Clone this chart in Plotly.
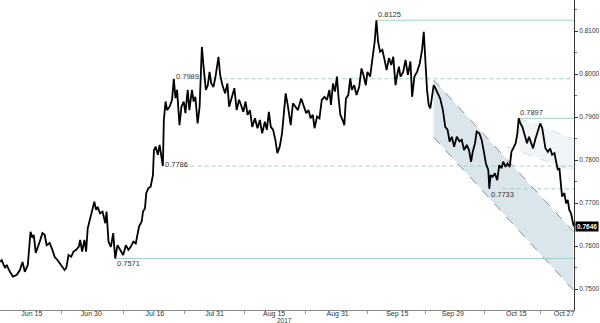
import pandas as pd
import plotly.graph_objects as go

BASE = pd.Timestamp("2017-06-07")

# day offsets from BASE and AUD/USD values
days = [0, 0.42, 1.25, 1.68, 2.5, 3.25, 4.25, 5, 5.68, 6.25, 7, 7.68, 8.18, 8.5, 9, 9.5, 10, 10.68, 11.25, 11.75,
        12.5, 13.18, 13.75, 14.5, 15.42, 16.25, 16.68, 17.25, 17.92, 18.5, 19.18, 19.82, 20.18, 20.68, 21.25, 21.68,
        22.08, 22.68, 23.18, 23.75, 24.18, 24.58, 25.18, 25.82, 26.5, 26.82, 27.32, 27.92, 28.5, 29, 29.58, 30.42,
        31, 31.68, 32.32, 32.92, 33.58, 34.18, 34.58, 35, 35.68, 36, 36.5, 36.82, 37.32, 37.92,
        38.5, 38.75, 39.18, 39.75, 40.18, 40.68, 41, 41.25, 41.68, 42.08, 42.68, 43.32, 43.75, 44.18, 44.58, 45.18,
        45.68, 46.25, 46.68, 47.25, 47.68, 48.32, 48.75, 49.18, 49.75, 50.25, 50.58, 50.82, 51.25, 51.82, 52.32,
        52.75, 53.18, 53.75, 54.32, 55, 55.42, 56, 56.68, 57.25, 57.68, 58.32, 59, 59.58, 60.18, 60.68, 61.25,
        61.82, 62.32, 62.92, 63.5, 64.18, 64.82, 65.42, 66, 66.68, 67.18, 67.68, 68.18, 68.75, 69.32, 69.82, 70.42,
        71, 71.5, 71.92, 72.5, 73.18, 73.75, 74.32, 75,
        75.82, 76.5, 77.08, 77.68, 78.18, 78.75, 79.18, 79.82, 80.42, 81, 81.68, 82.32, 82.92, 83.32, 83.82, 84.32,
        84.82, 85.25, 85.68, 86.25, 86.68, 87.08, 87.68, 88.18, 88.58, 89.18, 89.75, 90.42, 91, 91.5, 92.08, 92.5,
        93.18, 93.5, 94, 94.32, 94.75, 95.18, 95.68, 96.25, 96.82, 97.32, 97.92, 98.5, 99, 99.58, 100, 100.42,
        100.82, 101.5, 102.08, 102.68, 103.32, 103.75, 104.32, 105, 105.68, 106.25, 106.68, 107, 107.5, 107.92,
        108.32, 108.75, 109.18, 109.58, 110,
        110.82, 111.5, 112.08, 112.68, 113.18, 113.75, 114.32, 115, 115.68, 116.25, 116.82, 117.5, 118.08, 118.58,
        119, 119.58, 120, 120.68, 121.25, 121.82, 122.32, 122.92, 123.18, 123.5, 124, 124.58, 125.18, 125.68,
        126.25, 126.68, 127.25, 127.75, 128.32, 128.75, 129.32, 129.82, 130.25, 130.58, 131, 131.5, 132.08,
        132.68, 133.18, 133.75, 134.18, 134.82, 135.42, 136, 136.5, 136.82, 137.32, 137.92, 138.5, 139, 139.58,
        140, 140.42, 140.82, 141.25, 141.5, 142.08, 142.5, 142.92, 143.32, 143.75, 144.18, 144.42]

price = [0.7563, 0.7567, 0.7549, 0.7556, 0.7540, 0.7529, 0.7533, 0.7544, 0.7563, 0.7540, 0.7556, 0.7633, 0.7619,
         0.7626, 0.7584, 0.7595, 0.7610, 0.7630, 0.7626, 0.7602, 0.7607, 0.7591, 0.7575, 0.7567, 0.7556, 0.7544,
         0.7549, 0.7579, 0.7575, 0.7587, 0.7591, 0.7598, 0.7614, 0.7587, 0.7614, 0.7587, 0.7641, 0.7664, 0.7680,
         0.7703, 0.7684, 0.7691, 0.7676, 0.7680, 0.7653, 0.7680, 0.7610, 0.7598, 0.7630, 0.7571, 0.7602, 0.7587,
         0.7579, 0.7602, 0.7591, 0.7598, 0.7610, 0.7606, 0.7626, 0.7645, 0.7657, 0.7680, 0.7688, 0.7723, 0.7734,
         0.7738,
         0.7765, 0.7823, 0.7831, 0.7812, 0.7835, 0.7808, 0.7786, 0.7893, 0.7936, 0.7916, 0.7924, 0.7940, 0.7989,
         0.7944, 0.7963, 0.7881, 0.7924, 0.7936, 0.7909, 0.7963, 0.7916, 0.7963, 0.7936, 0.7947, 0.7885, 0.7924,
         0.8033, 0.8063, 0.8017, 0.7963, 0.7974, 0.8005, 0.7978, 0.7970, 0.7998, 0.8040, 0.7998, 0.7974, 0.7955,
         0.7978, 0.7924, 0.7943, 0.7967, 0.7916, 0.7940, 0.7928, 0.7912, 0.7936, 0.7905, 0.7916, 0.7877, 0.7897,
         0.7874, 0.7893, 0.7862, 0.7889, 0.7870, 0.7912, 0.7877, 0.7870, 0.7847, 0.7816, 0.7831, 0.7862, 0.7912,
         0.7955, 0.7924, 0.7881, 0.7932, 0.7924, 0.7916,
         0.7943, 0.7924, 0.7909, 0.7916, 0.7897, 0.7905, 0.7874, 0.7901, 0.7897, 0.7940, 0.7947, 0.7940, 0.7963,
         0.7928, 0.7978, 0.7959, 0.7994, 0.7943, 0.7905, 0.7893, 0.7881, 0.7943, 0.7951, 0.7990, 0.7963, 0.7974,
         0.7951, 0.7970, 0.8013, 0.7998, 0.7974, 0.8005, 0.7994, 0.8017, 0.8048, 0.8075, 0.8125, 0.8075, 0.8052,
         0.8056, 0.8033, 0.8009, 0.8037, 0.8021, 0.8040, 0.7974, 0.7998, 0.8017, 0.7994, 0.8005, 0.8033, 0.7998,
         0.8029, 0.7947, 0.7994, 0.8005, 0.8025, 0.8056, 0.8098, 0.8033, 0.7963, 0.7928, 0.7920, 0.7947, 0.7974,
         0.7967, 0.7959,
         0.7943, 0.7916, 0.7877, 0.7870, 0.7843, 0.7854, 0.7831, 0.7854, 0.7843, 0.7847, 0.7823, 0.7835, 0.7823,
         0.7796, 0.7819, 0.7839, 0.7866, 0.7862, 0.7847, 0.7819, 0.7792, 0.7777, 0.7733, 0.7765, 0.7761, 0.7769,
         0.7753, 0.7788, 0.7781, 0.7796, 0.7784, 0.7792, 0.7784, 0.7819, 0.7831, 0.7839, 0.7862, 0.7897, 0.7885,
         0.7877, 0.7858, 0.7839, 0.7854, 0.7835, 0.7827, 0.7850, 0.7870, 0.7885, 0.7874, 0.7854, 0.7827, 0.7819,
         0.7827, 0.7812, 0.7816, 0.7796, 0.7777, 0.7781, 0.7738, 0.7715, 0.7723, 0.7699, 0.7707, 0.7684, 0.7676,
         0.7660, 0.7646]

# horizontal levels: value, start day, solid/dashed, label side
levels = [0.8125, 0.7989, 0.7897, 0.7786, 0.7733, 0.7571]
level_start = [94.75, 49.2, 130.5, 46.2, 126.5, 29.0]
level_label_day = [94.75, 43.75, 130.5, 41.0, 123.2, 29.0]
level_dash = ["solid", "dash", "solid", "dash", "dash", "solid"]
level_label_pos = ["above", "inline", "above", "inline", "below", "below"]

# descending channel (start day, end day, upper values, lower values)
chan_days = [109.18, 144.3]
chan_upper = [0.7986, 0.7634]
chan_lower = [0.7853, 0.7498]
# lighter October channel
oct_days = [130.5, 144.5]
oct_upper = [0.7897, 0.7849]
oct_lower = [0.7821, 0.7774]
oct_lower_ext_days = [127.5, 144.5]
oct_lower_ext = [0.7831, 0.7774]

tick_dates = ["2017-06-15", "2017-06-30", "2017-07-16", "2017-07-31", "2017-08-15",
              "2017-08-31", "2017-09-15", "2017-09-29", "2017-10-15", "2017-10-27"]
tick_text = ["Jun 15", "Jun 30", "Jul 16", "Jul 31", "Aug 15", "Aug 31", "Sep 15", "Sep 29", "Oct 15", "Oct 27"]
y_ticks = [0.75, 0.76, 0.77, 0.78, 0.79, 0.80, 0.81]
last_price = 0.7646


def d(x):
    return BASE + pd.to_timedelta(x, unit="D")


x_end = d(144.5)
fig = go.Figure()

# light October channel
fig.add_trace(go.Scatter(x=[d(v) for v in oct_days], y=oct_lower, mode="lines",
                         line=dict(color="rgba(0,0,0,0)"), showlegend=False, hoverinfo="skip"))
fig.add_trace(go.Scatter(x=[d(v) for v in oct_days], y=oct_upper, mode="lines", fill="tonexty",
                         fillcolor="rgba(225,232,238,0.45)", line=dict(color="rgba(0,0,0,0)"),
                         showlegend=False, hoverinfo="skip"))
fig.add_trace(go.Scatter(x=[d(v) for v in oct_days], y=oct_upper, mode="lines",
                         line=dict(color="#d4d8dc", width=1, dash="dash"), showlegend=False))
fig.add_trace(go.Scatter(x=[d(v) for v in oct_lower_ext_days], y=oct_lower_ext, mode="lines",
                         line=dict(color="#d4d8dc", width=1, dash="dash"), showlegend=False))

# main channel
fig.add_trace(go.Scatter(x=[d(v) for v in chan_days], y=chan_lower, mode="lines",
                         line=dict(color="#8a8f94", width=1, dash="dash"), showlegend=False))
fig.add_trace(go.Scatter(x=[d(v) for v in chan_days], y=chan_upper, mode="lines", fill="tonexty",
                         fillcolor="rgba(210,222,231,0.8)",
                         line=dict(color="#8a8f94", width=1, dash="dash"), showlegend=False))

# levels
for v, s, ld, ds, pos in zip(levels, level_start, level_label_day, level_dash, level_label_pos):
    fig.add_trace(go.Scatter(x=[d(s), x_end], y=[v, v], mode="lines",
                             line=dict(color="#9ed3c3", width=1, dash=ds if ds == "solid" else "4px,3px"),
                             showlegend=False))
    if pos == "above":
        fig.add_annotation(x=d(ld), y=v, text=f"{v:.4f}", showarrow=False, xanchor="left", yanchor="bottom",
                           yshift=-1, font=dict(size=7.5, color="#333"))
    elif pos == "below":
        fig.add_annotation(x=d(ld), y=v, text=f"{v:.4f}", showarrow=False, xanchor="left", yanchor="top",
                           yshift=1, font=dict(size=7.5, color="#333"))
    else:
        fig.add_annotation(x=d(ld), y=v, text=f"{v:.4f}", showarrow=False, xanchor="left", yanchor="middle",
                           yshift=2, font=dict(size=7.5, color="#333"))

# price line
fig.add_trace(go.Scatter(x=[d(v) for v in days], y=price, mode="lines",
                         line=dict(color="#000000", width=1.8), showlegend=False))

# last price tag
fig.add_annotation(x=1, xref="paper", y=last_price, text=f"<b>{last_price:.4f}</b>", showarrow=False,
                   xanchor="left", xshift=1, bgcolor="#000", font=dict(size=6.5, color="#fff"), borderpad=1)

fig.add_annotation(x=d(71.5), y=0, yref="paper", text="2017", showarrow=False, yanchor="top", yshift=-5,
                   font=dict(size=6.5, color="#333"))

mids = [pd.Timestamp(a) + (pd.Timestamp(b) - pd.Timestamp(a)) / 2 for a, b in zip(tick_dates[:-1], tick_dates[1:])]

fig.update_layout(
    width=600, height=323, margin=dict(l=0, r=22, t=0, b=13),
    plot_bgcolor="#ffffff", paper_bgcolor="#ffffff",
    font=dict(family="Liberation Sans Narrow, Liberation Sans, Arial", size=7, color="#333"),
    xaxis=dict(type="date", range=[d(0), x_end], tickvals=tick_dates, ticktext=tick_text, ticks="",
               showgrid=False, zeroline=False, showline=True, linecolor="#888", linewidth=1,
               tickfont=dict(size=7, color="#333"), ticklabelstandoff=-3,
               minor=dict(tickvals=mids, ticks="outside", ticklen=3, tickcolor="#999", showgrid=False)),
    yaxis=dict(side="right", range=[0.74512, 0.81721], tickvals=y_ticks, tickformat=".4f",
               ticks="outside", ticklen=3, tickcolor="#333", showgrid=False, zeroline=False,
               showline=True, linecolor="#333", linewidth=1, tickfont=dict(size=6.5, color="#333"),
               minor=dict(dtick=0.005, ticks="outside", ticklen=2, tickcolor="#666", showgrid=False)),
)

fig.write_html("out.html")
